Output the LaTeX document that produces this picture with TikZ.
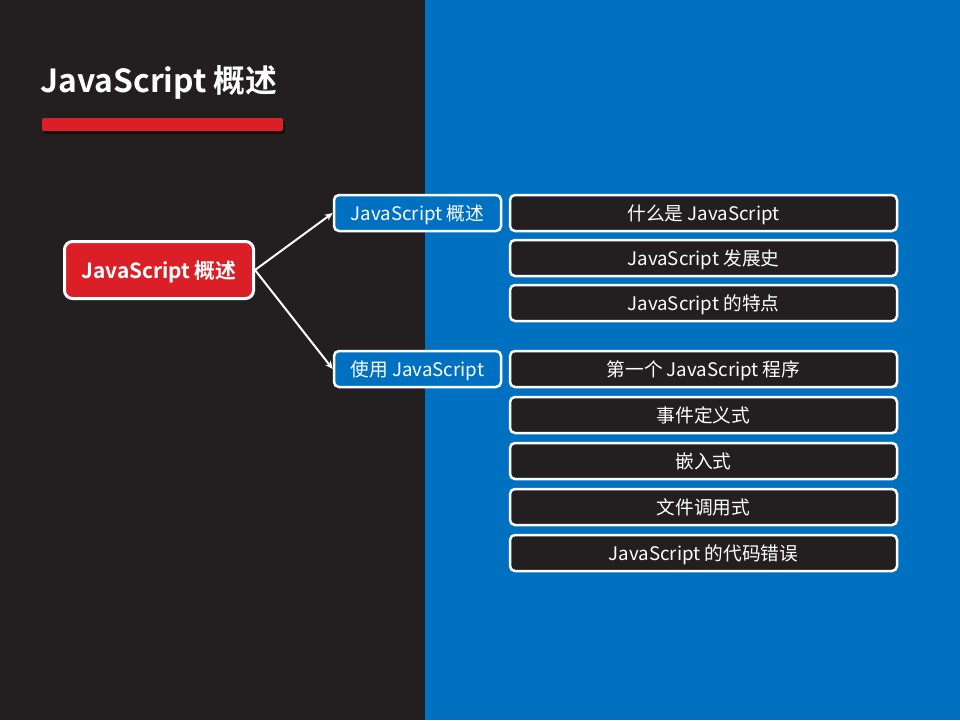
\documentclass[tikz,border=0pt]{standalone}
\usepackage{fontspec}
\setmainfont{Noto Sans CJK SC}[BoldFont={Noto Sans CJK SC Bold}]
\usetikzlibrary{arrows.meta,shadows}
\definecolor{darkbg}{HTML}{231F20}
\definecolor{bluebg}{HTML}{0070C0}
\definecolor{redc}{HTML}{DA1F26}
\tikzset{
  mainbox/.style={draw=white,line width=3pt,fill=redc,rounded corners=8pt,minimum width=189pt,minimum height=57pt,text=white,font=\bfseries\fontsize{20.8}{24}\selectfont,inner sep=0pt,text height=16.5pt,text depth=0pt},
  bluebox/.style={draw=white,line width=2.5pt,fill=bluebg,rounded corners=5pt,minimum width=167pt,minimum height=36pt,text=white,font=\fontsize{18.7}{22}\selectfont,inner sep=0pt,text height=15.5pt,text depth=0pt},
  itembox/.style={draw=white,line width=2.5pt,fill=darkbg,rounded corners=5pt,minimum width=387pt,minimum height=36pt,text=white,font=\fontsize{18.7}{22}\selectfont,inner sep=0pt,text height=15.5pt,text depth=0pt},
  conn/.style={draw=white,line width=2pt,-{Stealth[length=8pt,width=7pt]}}
}
\begin{document}
\begin{tikzpicture}[x=1pt,y=-1pt]
\useasboundingbox (0,0) rectangle (960,720);
\fill[darkbg] (0,0) rectangle (425,720);
\fill[bluebg] (425,0) rectangle (960,720);
\node[anchor=west,text=white,font=\bfseries\fontsize{31.8}{36}\selectfont,inner sep=0pt] (title) at (40,82) {JavaScript 概述};
\fill[black,opacity=0.5,rounded corners=2pt] (44,121) rectangle (285,134);
\fill[redc,rounded corners=2pt] (42,118) rectangle (283,131);
\node[mainbox] (main) at (159,270) {JavaScript 概述};
\node[bluebox] (b1) at (417.5,213) {JavaScript 概述};
\node[bluebox] (b2) at (417.5,369) {使用 JavaScript};
\node[itembox] (i1) at (703.5,213) {什么是 JavaScript};
\node[itembox] (i2) at (703.5,258) {JavaScript 发展史};
\node[itembox] (i3) at (703.5,303) {JavaScript 的特点};
\node[itembox] (i4) at (703.5,369) {第一个 JavaScript 程序};
\node[itembox] (i5) at (703.5,415) {事件定义式};
\node[itembox] (i6) at (703.5,461) {嵌入式};
\node[itembox] (i7) at (703.5,507) {文件调用式};
\node[itembox] (i8) at (703.5,553) {JavaScript 的代码错误};
\draw[conn] (main.east) -- (b1.west);
\draw[conn] (main.east) -- (b2.west);
\end{tikzpicture}
\end{document}
